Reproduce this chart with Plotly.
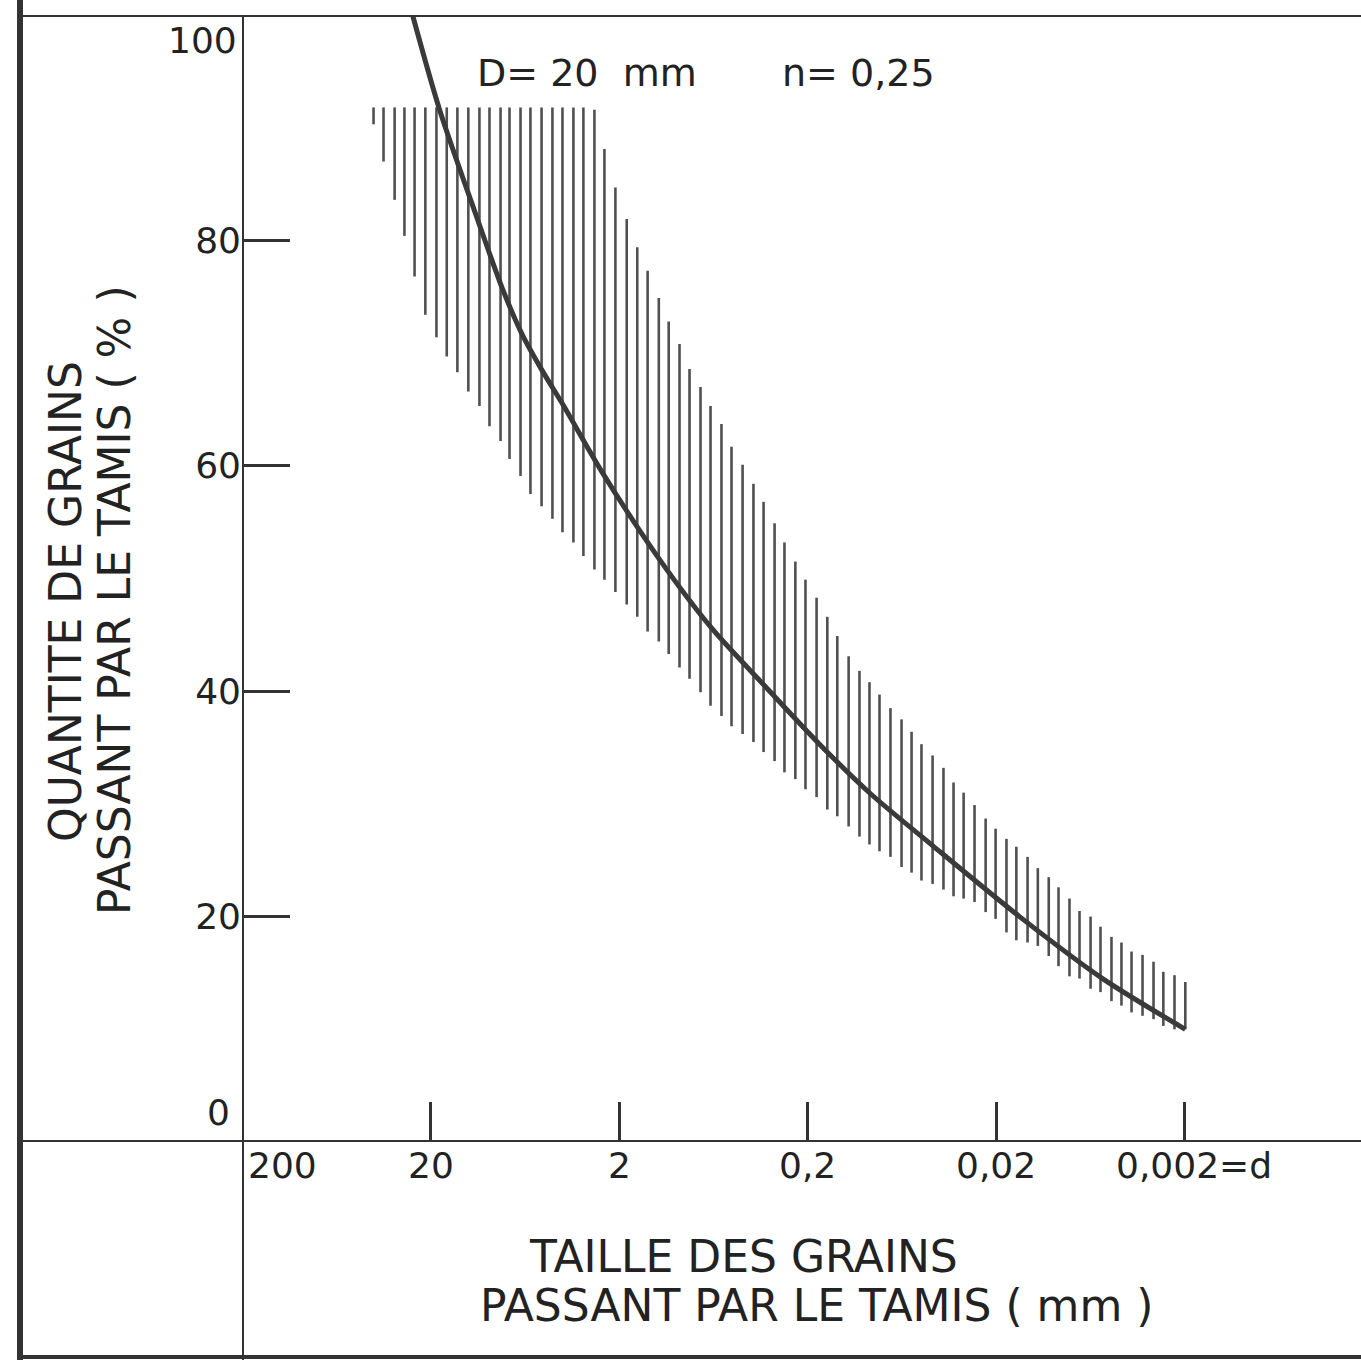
import math
import plotly.graph_objects as go

# ---- data ----
# main curve: grain size d (mm) vs % passing
curve_d = [24.9, 17.9, 11.5, 8.30, 6.50, 5.09, 3.99, 2.45, 1.22, 0.638,
           0.334, 0.1727, 0.0926, 0.0434, 0.015, 0.00544, 0.00198]
curve_p = [100.0, 91.6, 82.3, 75.7, 71.6, 68.4, 65.5, 59.4, 51.7, 45.5,
           40.4, 35.3, 30.9, 26.3, 20.0, 14.5, 10.0]

# hatched band: one vertical stroke per grain size, top and bottom in %
hatch_d = [40.1, 35.5, 31.0, 27.5, 24.3, 21.3, 18.6, 16.4, 14.4, 12.6, 11.0, 9.73,
           8.50, 7.62, 6.66, 5.90, 5.15, 4.51, 3.99, 3.49, 3.09, 2.70, 2.39, 2.09,
           1.82, 1.60, 1.41, 1.23, 1.09, 0.955, 0.845, 0.739, 0.654, 0.572, 0.506,
           0.442, 0.387, 0.342, 0.299, 0.265, 0.232, 0.205, 0.179, 0.157, 0.139,
           0.121, 0.106, 0.0938, 0.0830, 0.0726, 0.0634, 0.0561, 0.0497, 0.0434,
           0.0380, 0.0336, 0.0297, 0.0260, 0.0227, 0.0201, 0.0176, 0.0156, 0.0136,
           0.0120, 0.0105, 0.00932, 0.00815, 0.00721, 0.00630, 0.00558, 0.00488,
           0.00432, 0.00382, 0.00334, 0.00292, 0.00259, 0.00226, 0.00198]
hatch_top = [91.8, 91.8, 91.8, 91.8, 91.8, 91.8, 91.8, 91.8, 91.8, 91.8, 91.8, 91.8,
             91.8, 91.8, 91.8, 91.8, 91.8, 91.8, 91.8, 91.8, 91.8, 91.6, 88.1, 84.7,
             81.9, 79.4, 77.3, 74.9, 72.8, 70.8, 68.6, 67.0, 65.3, 63.7, 61.7,
             60.1, 58.4, 56.8, 54.9, 53.2, 51.5, 49.9, 48.3, 46.6, 44.9,
             43.1, 41.8, 40.8, 39.7, 38.5, 37.5, 36.4, 35.3, 34.3,
             33.2, 31.9, 31.0, 29.9, 28.7, 27.8, 26.9, 26.2, 25.3,
             24.3, 23.5, 22.6, 21.6, 20.5, 20.0, 19.1, 18.2,
             17.7, 16.9, 16.6, 16.0, 15.1, 14.8, 14.2]
hatch_bot = [90.3, 87.0, 83.6, 80.4, 76.8, 73.4, 71.4, 69.7, 68.3, 66.6, 65.3, 63.5,
             62.2, 60.6, 59.1, 57.5, 56.4, 55.3, 54.1, 53.2, 52.0, 50.8, 49.9, 48.8,
             47.7, 46.6, 45.3, 44.4, 43.3, 42.1, 41.1, 39.9, 38.7, 37.8, 36.9,
             36.2, 35.5, 34.6, 33.8, 32.8, 32.2, 31.3, 30.6, 29.5, 28.9,
             28.0, 27.1, 26.4, 25.8, 25.3, 24.4, 23.9, 23.2, 22.9,
             22.4, 21.8, 21.6, 21.3, 20.4, 19.8, 18.6, 17.9, 17.7,
             17.4, 16.5, 15.6, 14.7, 14.5, 13.6, 13.3, 12.5,
             12.1, 11.5, 11.2, 10.9, 10.3, 10.0, 10.0]

y_ticks = [20, 40, 60, 80]
x_ticks = [20, 2, 0.2, 0.02, 0.002]
x_tick_labels = ["20", "2", "0,2", "0,02"]

INK = "#333333"
TXT = "#222222"
FONT = "DejaVu Sans"

# build hatch strokes
hx, hy = [], []
for d, t, b in zip(hatch_d, hatch_top, hatch_bot):
    hx += [d, d, None]
    hy += [t, b, None]

fig = go.Figure()
fig.add_trace(go.Scatter(x=hx, y=hy, mode="lines",
                         line=dict(color="#505050", width=2.6),
                         hoverinfo="skip", showlegend=False))
fig.add_trace(go.Scatter(x=curve_d, y=curve_p, mode="lines",
                         line=dict(color="#3a3a3a", width=5, shape="spline", smoothing=0.8),
                         showlegend=False))

W, H = 1361, 1360
L, T, B = 242, 15, 218
pw, ph = W - L, H - T - B

def px(xp):
    return (xp - L) / pw

def py(yp):
    return (H - B - yp) / ph

fig.update_layout(
    width=W, height=H,
    margin=dict(l=L, r=0, t=T, b=B),
    paper_bgcolor="white", plot_bgcolor="white",
    font=dict(family=FONT, color=TXT),
    xaxis=dict(type="log", range=[2.30103, -3.6353], showgrid=False, zeroline=False,
               showline=False, tickvals=x_ticks, ticks="inside", ticklen=40,
               tickwidth=3, tickcolor=INK, showticklabels=False),
    yaxis=dict(range=[0, 100], showgrid=False, zeroline=False, showline=False,
               tickvals=y_ticks, ticktext=[str(v) for v in y_ticks],
               ticks="inside", ticklen=48, tickwidth=3, tickcolor=INK,
               tickfont=dict(size=36, family=FONT, color=TXT)),
)

shapes = []
shapes.append(dict(type="line", xref="paper", yref="paper", x0=px(20), x1=px(20),
                   y0=py(0), y1=py(H), line=dict(color=INK, width=6)))
shapes.append(dict(type="line", xref="paper", yref="y", x0=px(20), x1=1.0,
                   y0=100, y1=100, line=dict(color=INK, width=4)))
shapes.append(dict(type="line", xref="paper", yref="y", x0=px(20), x1=1.0,
                   y0=0, y1=0, line=dict(color=INK, width=4)))
shapes.append(dict(type="line", xref="x", yref="paper", x0=200, x1=200,
                   y0=py(15), y1=py(H), line=dict(color=INK, width=4)))
shapes.append(dict(type="line", xref="paper", yref="paper", x0=px(20), x1=1.0,
                   y0=py(1357), y1=py(1357), line=dict(color=INK, width=4)))
fig.update_layout(shapes=shapes)

def note(x, y, text, size, xanchor="center", textangle=0, xref="paper", yref="paper",
         xshift=0, yshift=0):
    return dict(x=x, y=y, xref=xref, yref=yref, text=text, showarrow=False,
                xanchor=xanchor, yanchor="middle", textangle=textangle,
                xshift=xshift, yshift=yshift,
                font=dict(size=size, family=FONT, color=TXT))

ann = []
fs = 36
ann.append(note(px(239), py(41), "100", fs, xanchor="right"))
ann.append(note(px(232), py(1112), "0", fs, xanchor="right"))
ann.append(note(math.log10(200), 0, "200", fs, xanchor="left", xref="x", yref="y",
                xshift=4, yshift=-23))
for v, lab in zip(x_ticks[:4], x_tick_labels):
    ann.append(note(math.log10(v), 0, lab, fs, xref="x", yref="y", yshift=-23))
ann.append(note(math.log10(x_ticks[4]), 0, "0,002=d", fs, xanchor="left",
                xref="x", yref="y", xshift=-71, yshift=-23))
ann.append(note(px(587), py(73), "D= 20\u00a0\u00a0mm", 38))
ann.append(note(px(858), py(73), "n= 0,25", 38))
ann.append(note(px(65), py(602), "QUANTITE DE GRAINS", 44, textangle=-90))
ann.append(note(px(115), py(600), "PASSANT PAR LE TAMIS ( % )", 44, textangle=-90))
ann.append(note(px(743), py(1257), "TAILLE DES GRAINS", 44))
ann.append(note(px(817), py(1305), "PASSANT PAR LE TAMIS ( mm )", 44))
fig.update_layout(annotations=ann)

fig.write_html("out.html")
